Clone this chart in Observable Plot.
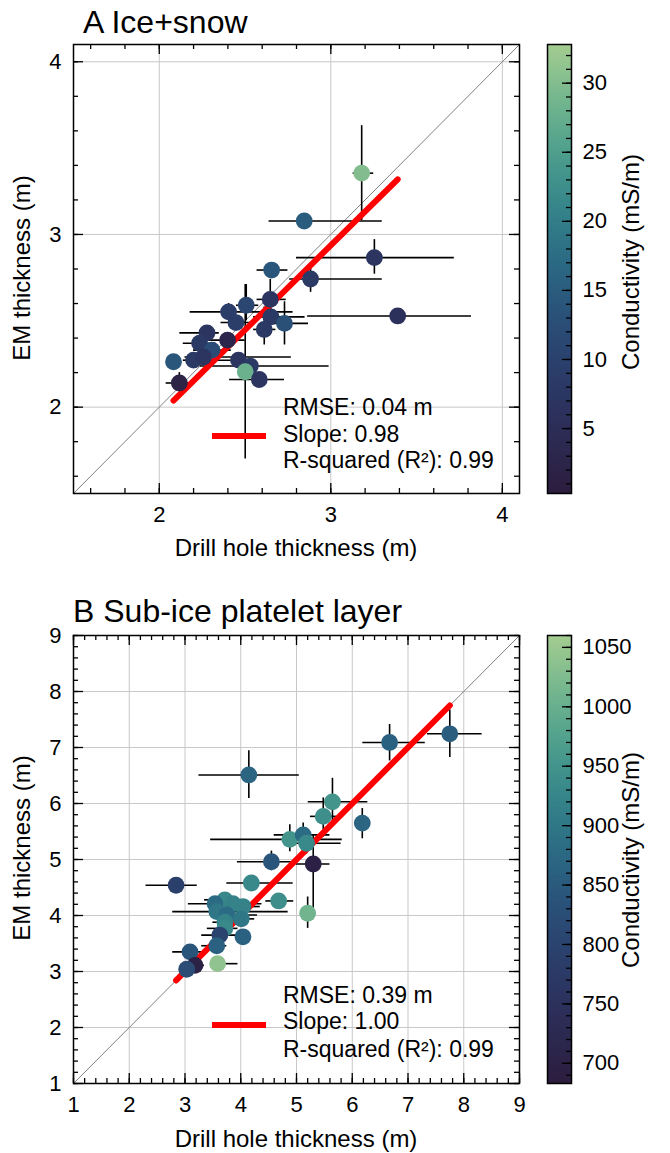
<!DOCTYPE html>
<html><head><meta charset="utf-8">
<script src="https://cdn.jsdelivr.net/npm/d3@7"></script>
<script src="https://cdn.jsdelivr.net/npm/@observablehq/plot@0.6"></script>
<style>
body{margin:0;background:#fff;font-family:"Liberation Sans",Arial,Helvetica,sans-serif;}
#root{position:relative;width:670px;height:1153px;overflow:hidden;background:#fff;}
.abs{position:absolute;}
.title{font-size:32px;line-height:32px;color:#000;white-space:nowrap;}
.leg{font-size:23px;line-height:23px;color:#000;white-space:nowrap;}
.axl{font-size:24px;line-height:24px;color:#000;white-space:nowrap;transform:translate(-50%,-50%);}
.axr{font-size:24px;line-height:24px;color:#000;white-space:nowrap;transform:translate(-50%,-50%) rotate(-90deg);}
.bar{background:#ff0000;height:6px;width:54px;}
</style></head><body><div id="root"></div>
<script>
// ---------- Panel A: Ice+snow ----------
const aDrill   = [3.18, 2.845, 3.254, 2.655, 2.882, 3.39, 2.647, 2.507, 2.404, 2.651, 2.447, 2.73, 2.612, 2.278, 2.398, 2.235, 2.307, 2.2, 2.083, 2.258, 2.462, 2.531, 2.501, 2.583, 2.117];
const aEM      = [3.355, 3.078, 2.866, 2.794, 2.742, 2.528, 2.624, 2.59, 2.552, 2.523, 2.49, 2.485, 2.45, 2.43, 2.388, 2.37, 2.33, 2.272, 2.263, 2.29, 2.272, 2.238, 2.205, 2.16, 2.14];
const aDrillLo = [3.13, 2.64, 2.80, 2.57, 2.76, 2.865, 2.57, 2.45, 2.18, 2.55, 2.36, 2.59, 2.55, 2.12, 2.25, 2.14, 2.20, 2.14, 2.083, 2.15, 2.28, 2.24, 2.501, 2.41, 2.04];
const aDrillHi = [3.25, 3.30, 3.72, 2.75, 3.30, 3.82, 2.74, 2.58, 2.78, 2.85, 2.55, 2.87, 2.68, 2.35, 2.50, 2.33, 2.42, 2.30, 2.083, 2.77, 2.55, 2.99, 2.501, 2.73, 2.19];
const aEMLo    = [3.08, 3.078, 2.77, 2.794, 2.665, 2.50, 2.55, 2.50, 2.50, 2.48, 2.46, 2.36, 2.36, 2.40, 2.36, 2.34, 2.30, 2.25, 2.263, 2.26, 2.25, 2.21, 1.70, 2.16, 2.10];
const aEMHi    = [3.63, 3.078, 2.97, 2.794, 2.82, 2.56, 2.74, 2.71, 2.60, 2.57, 2.52, 2.61, 2.58, 2.46, 2.42, 2.40, 2.36, 2.30, 2.263, 2.32, 2.30, 2.27, 2.71, 2.16, 2.20];
const aCond    = [30, 15, 7, 14, 8, 6, 7, 11, 9, 8, 9, 13, 8, 7, 3, 8, 12, 8, 14, 7, 7, 8, 28, 7, 2];
const aTicks = [2, 3, 4];
const aCondTicks = [5, 10, 15, 20, 25, 30];
const aFit = {slope: 0.98, intercept: -0.003};
const aStats = ["RMSE: 0.04 m", "Slope: 0.98", "R-squared (R\u00b2): 0.99"];

// ---------- Panel B: Sub-ice platelet layer ----------
const bDrill   = [4.145, 6.67, 7.75, 5.645, 5.48, 6.18, 4.88, 5.12, 5.18, 5.30, 4.55, 4.19, 2.84, 4.68, 5.20, 3.715, 3.54, 3.86, 4.04, 3.57, 3.75, 4.01, 3.715, 3.715, 3.625, 4.04, 3.57, 3.09, 3.585, 3.18, 3.03];
const bEM      = [6.51, 7.09, 7.245, 6.03, 5.77, 5.65, 5.36, 5.44, 5.29, 4.92, 4.96, 4.58, 4.54, 4.26, 4.04, 4.28, 4.21, 4.21, 4.16, 4.07, 4.01, 3.94, 3.88, 3.77, 3.65, 3.62, 3.46, 3.35, 3.14, 3.11, 3.04];
const bDrillLo = [3.25, 6.19, 7.35, 5.21, 5.25, 6.18, 3.46, 4.60, 5.00, 5.00, 3.94, 3.75, 2.30, 4.45, 5.20, 3.35, 3.06, 3.50, 3.80, 2.78, 3.50, 3.70, 3.50, 3.40, 3.30, 4.04, 3.30, 2.78, 3.585, 3.05, 3.03];
const bDrillHi = [5.05, 7.31, 8.33, 6.28, 5.72, 6.18, 5.82, 5.60, 5.80, 5.60, 4.94, 4.94, 3.22, 4.95, 5.20, 3.90, 4.38, 4.20, 4.35, 4.85, 4.30, 4.25, 4.00, 3.95, 4.00, 4.04, 3.75, 3.39, 3.95, 3.35, 3.03];
const bEMLo    = [6.09, 6.76, 6.82, 5.64, 5.40, 5.37, 5.14, 5.15, 5.10, 3.98, 4.80, 4.58, 4.54, 4.26, 3.77, 4.28, 4.21, 4.21, 4.16, 4.07, 4.01, 3.94, 3.88, 3.77, 3.65, 3.62, 3.46, 3.35, 3.14, 3.11, 3.04];
const bEMHi    = [6.94, 7.41, 7.67, 6.45, 6.10, 5.91, 5.62, 5.65, 5.50, 5.44, 5.15, 4.58, 4.54, 4.26, 4.33, 4.28, 4.21, 4.21, 4.16, 4.07, 4.01, 3.94, 3.88, 3.77, 3.65, 3.62, 3.46, 3.35, 3.14, 3.11, 3.04];
const bCond    = [870, 860, 855, 950, 940, 870, 950, 880, 930, 695, 840, 930, 790, 940, 1010, 930, 880, 920, 920, 900, 880, 900, 920, 930, 800, 860, 860, 840, 1040, 700, 820];
const bTicks = [1, 2, 3, 4, 5, 6, 7, 8, 9];
const bCondTicks = [700, 750, 800, 850, 900, 950, 1000, 1050];
const bFit = {slope: 1.00, intercept: 0.0};
const bStats = ["RMSE: 0.39 m", "Slope: 1.00", "R-squared (R\u00b2): 0.99"];

const xLabel = "Drill hole thickness (m)";
const yLabel = "EM thickness (m)";
const cLabel = "Conductivity (mS/m)";

// colormap stops (dark -> light)
const cmapStops = ["#2c1d3e", "#2c3361", "#294f7b", "#2b7d8a", "#54a88d", "#a5cd90"];
const cmap = d3.interpolateRgbBasis(cmapStops);

const FONT = "'Liberation Sans', Arial, Helvetica, sans-serif";
const root = document.getElementById("root");

function place(el, left, top) {
  const d = document.createElement("div");
  d.className = "abs";
  d.style.left = left + "px"; d.style.top = top + "px";
  d.appendChild(el); root.appendChild(d); return d;
}
function txt(cls, s, left, top) {
  const d = document.createElement("div");
  d.className = "abs " + cls; d.textContent = s;
  d.style.left = left + "px"; d.style.top = top + "px";
  root.appendChild(d);
}

function mainPlot(o) {
  const W = 540, fw = W - o.ml - o.mr, fh = o.h - o.mt - o.mb;
  const pts = o.x.map((x, i) => ({x, y: o.y[i], xlo: o.xlo[i], xhi: o.xhi[i], ylo: o.ylo[i], yhi: o.yhi[i], c: o.c[i]}));
  const minor = d3.ticks(o.dom[0], o.dom[1], o.nMinor);
  const fitX = d3.extent(o.x);
  const tk = {stroke: "black", strokeWidth: 1.3};
  return Plot.plot({
    width: W, height: o.h,
    marginLeft: o.ml, marginRight: o.mr, marginTop: o.mt, marginBottom: o.mb,
    style: {fontFamily: FONT, fontSize: "22px", color: "black", background: "transparent", overflow: "visible"},
    x: {domain: o.dom},
    y: {domain: o.dom},
    color: {type: "linear", domain: o.cdom, interpolate: cmap},
    marks: [
      Plot.ruleX(o.ticks, {x: d => d, stroke: "#c8c8c8", strokeWidth: 1}),
      Plot.ruleY(o.ticks, {y: d => d, stroke: "#c8c8c8", strokeWidth: 1}),
      Plot.line(o.dom, {x: d => d, y: d => d, stroke: "#808080", strokeWidth: 1}),
      Plot.ruleY(pts, {y: "y", x1: "xlo", x2: "xhi", stroke: "black", strokeWidth: 1.6}),
      Plot.ruleX(pts, {x: "x", y1: "ylo", y2: "yhi", stroke: "black", strokeWidth: 1.6}),
      Plot.line(fitX, {x: d => d, y: d => o.fit.slope * d + o.fit.intercept, stroke: "#ff0000", strokeWidth: 6, strokeLinecap: "round"}),
      Plot.dot(pts, {x: "x", y: "y", r: 8.4, fill: "c", stroke: "none"}),
      // inward ticks on all four sides
      Plot.ruleX(minor, {x: d => d, insetTop: fh - 5, ...tk}),
      Plot.ruleX(minor, {x: d => d, insetBottom: fh - 5, ...tk}),
      Plot.ruleX(o.ticks, {x: d => d, insetTop: fh - 10, ...tk}),
      Plot.ruleX(o.ticks, {x: d => d, insetBottom: fh - 10, ...tk}),
      Plot.ruleY(minor, {y: d => d, insetRight: fw - 5, ...tk}),
      Plot.ruleY(minor, {y: d => d, insetLeft: fw - 5, ...tk}),
      Plot.ruleY(o.ticks, {y: d => d, insetRight: fw - 10, ...tk}),
      Plot.ruleY(o.ticks, {y: d => d, insetLeft: fw - 10, ...tk}),
      Plot.frame({stroke: "black", strokeWidth: 1.5}),
      Plot.axisX({ticks: o.ticks, tickSize: 0, tickPadding: 13, tickFormat: d => String(d), label: null}),
      Plot.axisY({ticks: o.ticks, tickSize: 0, tickPadding: 12, tickFormat: d => String(d), label: null})
    ]
  });
}

function colorbar(o) {
  const W = 130, fw = 24, ml = 7;
  const n = 300, s = (o.cdom[1] - o.cdom[0]) / n;
  const steps = d3.range(n).map(i => o.cdom[0] + i * s);
  const minor = d3.ticks(o.cdom[0], o.cdom[1], o.nMinor);
  const tk = {stroke: "black", strokeWidth: 1.3};
  return Plot.plot({
    width: W, height: o.h,
    marginLeft: ml, marginRight: W - ml - fw, marginTop: o.mt, marginBottom: o.mb,
    style: {fontFamily: FONT, fontSize: "22px", color: "black", background: "transparent", overflow: "visible"},
    y: {domain: o.cdom},
    color: {type: "linear", domain: o.cdom, interpolate: cmap},
    marks: [
      Plot.rect(steps, {y1: d => d, y2: d => d + s * 1.05, fill: d => d + s / 2, shapeRendering: "crispEdges"}),
      Plot.ruleY(minor, {y: d => d, insetLeft: fw - 5, ...tk}),
      Plot.ruleY(o.ticks, {y: d => d, insetLeft: fw - 9, ...tk}),
      Plot.frame({stroke: "black", strokeWidth: 1.5}),
      Plot.axisY({anchor: "right", ticks: o.ticks, tickSize: 0, tickPadding: 11, tickFormat: d => String(d), label: null})
    ]
  });
}

// Panel A
place(mainPlot({x: aDrill, y: aEM, xlo: aDrillLo, xhi: aDrillHi, ylo: aEMLo, yhi: aEMHi, c: aCond,
  dom: [1.5, 4.1], ticks: aTicks, nMinor: 13, cdom: [0.3, 32.8], fit: aFit,
  h: 570, ml: 73, mr: 21, mt: 44, mb: 77}), 0, 0);
place(colorbar({cdom: [0.3, 32.8], ticks: aCondTicks, nMinor: 32, h: 570, mt: 44, mb: 77}), 540, 0);
txt("title", "A Ice+snow", 83, 6);
txt("axl", xLabel, 296, 548);
txt("axr", yLabel, 22, 268);
txt("axr", cLabel, 631, 262);
const barA = document.createElement("div"); barA.className = "abs bar";
barA.style.left = "212px"; barA.style.top = "433px"; root.appendChild(barA);
txt("leg", aStats[0], 283, 396);
txt("leg", aStats[1], 283, 423);
txt("leg", aStats[2], 283, 449);

// Panel B
place(mainPlot({x: bDrill, y: bEM, xlo: bDrillLo, xhi: bDrillHi, ylo: bEMLo, yhi: bEMHi, c: bCond,
  dom: [1, 9], ticks: bTicks, nMinor: 40, cdom: [683, 1060], fit: bFit,
  h: 563, ml: 73, mr: 21, mt: 45, mb: 70}), 0, 590);
place(colorbar({cdom: [683, 1060], ticks: bCondTicks, nMinor: 38, h: 563, mt: 45, mb: 70}), 540, 590);
txt("title", "B Sub-ice platelet layer", 73, 595);
txt("axl", xLabel, 296, 1139);
txt("axr", yLabel, 22, 848);
txt("axr", cLabel, 631, 860);
const barB = document.createElement("div"); barB.className = "abs bar";
barB.style.left = "212px"; barB.style.top = "1022px"; root.appendChild(barB);
txt("leg", bStats[0], 283, 984);
txt("leg", bStats[1], 283, 1010);
txt("leg", bStats[2], 283, 1038);
</script>
</body></html>
